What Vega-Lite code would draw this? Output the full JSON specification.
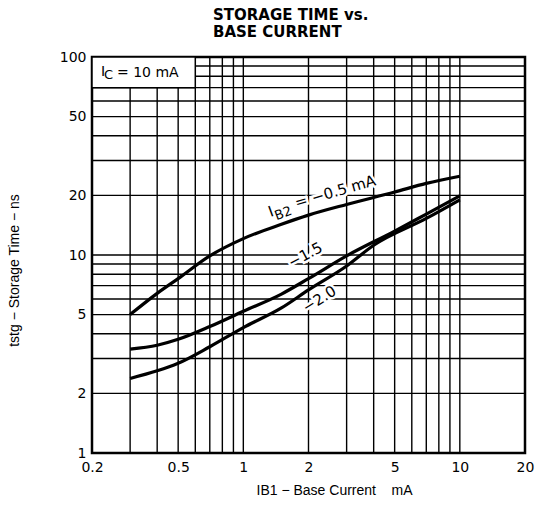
{
  "$schema": "https://vega.github.io/schema/vega-lite/v6.json",
  "autosize": {"type": "none"},
  "width": 433,
  "height": 396,
  "padding": {"left": 92, "top": 57, "right": 12, "bottom": 53},
  "background": "white",
  "config": {
    "view": {"stroke": "black", "strokeWidth": 2.5},
    "font": "DejaVu Sans",
    "axis": {"labelFont": "DejaVu Sans", "titleFont": "Liberation Sans", "labelColor": "black", "titleColor": "black"}
  },
  "title": {
    "text": ["STORAGE TIME vs.", "BASE CURRENT"],
    "frame": "group",
    "anchor": "start",
    "align": "left",
    "dx": 121,
    "offset": 10,
    "font": "DejaVu Sans",
    "fontSize": 15,
    "fontWeight": "bold",
    "lineHeight": 17,
    "color": "black"
  },
  "datasets": {
    "gridx": [{"v": 0.3}, {"v": 0.4}, {"v": 0.5}, {"v": 0.6}, {"v": 0.7}, {"v": 0.8}, {"v": 0.9}, {"v": 1}, {"v": 2}, {"v": 3}, {"v": 4}, {"v": 5}, {"v": 6}, {"v": 7}, {"v": 8}, {"v": 9}, {"v": 10}],
    "gridy": [{"v": 2}, {"v": 3}, {"v": 4}, {"v": 5}, {"v": 6}, {"v": 7}, {"v": 8}, {"v": 9}, {"v": 10}, {"v": 20}, {"v": 30}, {"v": 40}, {"v": 50}, {"v": 60}, {"v": 70}, {"v": 80}, {"v": 90}],
    "box": [{"x1": 0.2, "x2": 0.6, "y1": 70, "y2": 100}],
    "curves": [
      {"s": "-0.5", "ib1": 0.3, "t": 5.0},
      {"s": "-0.5", "ib1": 0.4, "t": 6.4},
      {"s": "-0.5", "ib1": 0.5, "t": 7.6},
      {"s": "-0.5", "ib1": 0.7, "t": 9.9},
      {"s": "-0.5", "ib1": 1.0, "t": 12.1},
      {"s": "-0.5", "ib1": 1.5, "t": 14.3},
      {"s": "-0.5", "ib1": 2.0, "t": 15.9},
      {"s": "-0.5", "ib1": 3.0, "t": 18.0},
      {"s": "-0.5", "ib1": 5.0, "t": 20.8},
      {"s": "-0.5", "ib1": 7.0, "t": 23.0},
      {"s": "-0.5", "ib1": 10.0, "t": 25.0},
      {"s": "-1.5", "ib1": 0.3, "t": 3.35},
      {"s": "-1.5", "ib1": 0.4, "t": 3.5},
      {"s": "-1.5", "ib1": 0.5, "t": 3.75},
      {"s": "-1.5", "ib1": 0.7, "t": 4.35},
      {"s": "-1.5", "ib1": 1.0, "t": 5.2},
      {"s": "-1.5", "ib1": 1.5, "t": 6.35},
      {"s": "-1.5", "ib1": 2.0, "t": 7.6},
      {"s": "-1.5", "ib1": 3.0, "t": 9.9},
      {"s": "-1.5", "ib1": 5.0, "t": 13.2},
      {"s": "-1.5", "ib1": 7.0, "t": 16.1},
      {"s": "-1.5", "ib1": 10.0, "t": 19.9},
      {"s": "-2.0", "ib1": 0.3, "t": 2.38},
      {"s": "-2.0", "ib1": 0.4, "t": 2.6},
      {"s": "-2.0", "ib1": 0.5, "t": 2.84},
      {"s": "-2.0", "ib1": 0.7, "t": 3.44},
      {"s": "-2.0", "ib1": 1.0, "t": 4.3},
      {"s": "-2.0", "ib1": 1.5, "t": 5.4},
      {"s": "-2.0", "ib1": 2.0, "t": 6.66},
      {"s": "-2.0", "ib1": 3.0, "t": 8.8},
      {"s": "-2.0", "ib1": 4.0, "t": 11.2},
      {"s": "-2.0", "ib1": 7.0, "t": 15.3},
      {"s": "-2.0", "ib1": 10.0, "t": 19.0}
    ],
    "labels": [
      {"txt": "I", "x": 1.336, "y": 15.56, "size": 15, "angle": -20},
      {"txt": "B2", "x": 1.424, "y": 15.0, "size": 13, "angle": -20},
      {"txt": "= −0.5 mA", "x": 1.761, "y": 17.28, "size": 15, "angle": -16},
      {"txt": "−1.5", "x": 1.67, "y": 8.6, "size": 15, "angle": -28},
      {"txt": "−2.0", "x": 1.958, "y": 5.09, "size": 15, "angle": -32}
    ],
    "ic": [
      {"txt": "I", "x": 0.2201, "y": 80.2, "size": 14},
      {"txt": "C", "x": 0.2271, "y": 77.4, "size": 13},
      {"txt": "= 10 mA", "x": 0.2608, "y": 79.3, "size": 14}
    ]
  },
  "layer": [
    {
      "data": {"name": "gridx"},
      "mark": {"type": "rule", "color": "black", "strokeWidth": 1.4},
      "encoding": {
        "x": {"field": "v", "type": "quantitative", "scale": {"type": "log", "domain": [0.2, 20], "nice": false},
          "axis": {"values": [0.2, 0.5, 1, 2, 5, 10, 20], "format": "~g", "grid": false, "ticks": false, "domain": false,
            "labelFontSize": 14, "labelPadding": 7, "labelFlush": false, "labelOverlap": false,
            "title": "IB1 − Base Current\u00a0\u00a0\u00a0\u00a0mA", "titleFontSize": 14, "titleFontWeight": "normal", "titlePadding": 9,
            "titleX": 242, "titleAlign": "center"}}
      }
    },
    {
      "data": {"name": "gridy"},
      "mark": {"type": "rule", "color": "black", "strokeWidth": 1.4},
      "encoding": {
        "y": {"field": "v", "type": "quantitative", "scale": {"type": "log", "domain": [1, 100], "nice": false},
          "axis": {"values": [1, 2, 5, 10, 20, 50, 100], "format": "~g", "grid": false, "ticks": false, "domain": false,
            "labelFontSize": 14, "labelPadding": 6, "labelFlush": false, "labelOverlap": false,
            "title": "tstg − Storage Time − ns", "titleFontSize": 14, "titleFontWeight": "normal", "titlePadding": 38,
            "titleY": 213, "titleAlign": "center"}}
      }
    },
    {
      "data": {"name": "box"},
      "mark": {"type": "rect", "fill": "white", "stroke": "black", "strokeWidth": 1.5},
      "encoding": {
        "x": {"field": "x1", "type": "quantitative"},
        "x2": {"field": "x2"},
        "y": {"field": "y1", "type": "quantitative"},
        "y2": {"field": "y2"}
      }
    },
    {
      "data": {"name": "curves"},
      "mark": {"type": "line", "color": "black", "strokeWidth": 3.2, "interpolate": "monotone"},
      "encoding": {
        "x": {"field": "ib1", "type": "quantitative"},
        "y": {"field": "t", "type": "quantitative"},
        "detail": {"field": "s"}
      }
    },
    {
      "data": {"name": "labels"},
      "mark": {"type": "text", "align": "left", "baseline": "alphabetic", "stroke": "white", "strokeWidth": 5, "fill": "white"},
      "encoding": {
        "x": {"field": "x", "type": "quantitative"},
        "y": {"field": "y", "type": "quantitative"},
        "text": {"field": "txt"},
        "size": {"field": "size", "type": "quantitative", "scale": null},
        "angle": {"field": "angle", "type": "quantitative", "scale": null}
      }
    },
    {
      "data": {"name": "labels"},
      "mark": {"type": "text", "align": "left", "baseline": "alphabetic", "color": "black"},
      "encoding": {
        "x": {"field": "x", "type": "quantitative"},
        "y": {"field": "y", "type": "quantitative"},
        "text": {"field": "txt"},
        "size": {"field": "size", "type": "quantitative", "scale": null},
        "angle": {"field": "angle", "type": "quantitative", "scale": null}
      }
    },
    {
      "data": {"name": "ic"},
      "mark": {"type": "text", "align": "left", "baseline": "alphabetic", "color": "black"},
      "encoding": {
        "x": {"field": "x", "type": "quantitative"},
        "y": {"field": "y", "type": "quantitative"},
        "text": {"field": "txt"},
        "size": {"field": "size", "type": "quantitative", "scale": null}
      }
    }
  ]
}
